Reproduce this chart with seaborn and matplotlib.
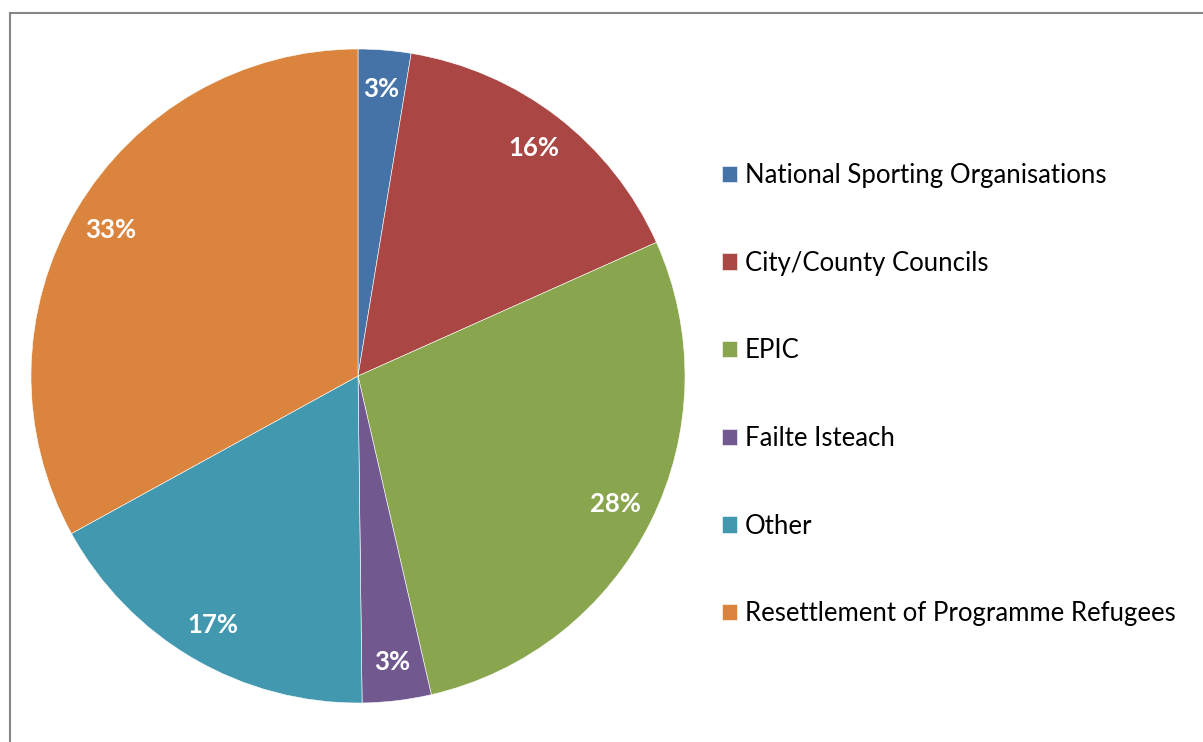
import matplotlib
matplotlib.use("Agg")
import matplotlib.pyplot as plt
from matplotlib.patches import Rectangle
import seaborn as sns

# data (percent of total, clockwise from 12 o'clock)
categories = ["National Sporting Organisations", "City/County Councils", "EPIC",
              "Failte Isteach", "Other", "Resettlement of Programme Refugees"]
shares = [2.6, 15.7, 28.1, 3.4, 17.2, 33.0]
colors = ["#4572A7", "#AA4643", "#89A54E", "#71588F", "#4198AF", "#DB843D"]

sns.set_style("white")
plt.rcParams['font.family'] = ['Lato', 'DejaVu Sans']

W, H = 1203, 742
fig = plt.figure(figsize=(W / 100, H / 100), dpi=100)

# pie centred at (358, 376) px, radius 327 px
cx, cy, r = 358, 376, 327
ax = fig.add_axes([(cx - r) / W, (H - cy - r) / H, 2 * r / W, 2 * r / H])
wedges, texts, autotexts = ax.pie(
    shares, colors=colors, startangle=90, counterclock=False,
    autopct=lambda p: f"{p:.0f}%", pctdistance=0.88, radius=1,
    wedgeprops=dict(edgecolor="white", linewidth=0.4),
    textprops=dict(color="white", fontsize=18.5, fontweight="bold"))
ax.set_xlim(-1, 1)
ax.set_ylim(-1, 1)
ax.set_aspect("equal")
ax.axis("off")

fig.legend(wedges, categories, loc="upper left",
           bbox_to_anchor=(709 / W, 1 - 150 / H), frameon=False,
           fontsize=18.5, handlelength=0.6, handleheight=0.6,
           handletextpad=0.3, labelspacing=2.44, borderpad=0,
           labelcolor="black")

# chart area border (runs off the right and bottom edges)
fig.patches.append(Rectangle((10 / W, -0.1), 1.2, 1 - 13 / H + 0.1,
                             transform=fig.transFigure, fill=False,
                             edgecolor="#868686", linewidth=1.5))

fig.savefig("out.png", dpi=100, facecolor="white")
